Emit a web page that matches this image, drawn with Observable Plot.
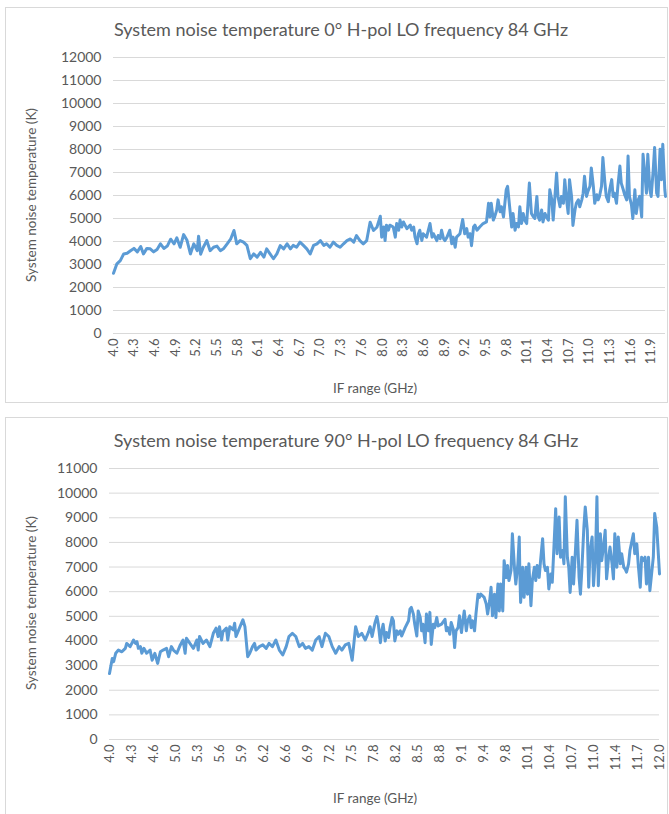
<!DOCTYPE html>
<html>
<head>
<meta charset="utf-8">
<script src="https://cdn.jsdelivr.net/npm/d3@7"></script>
<script src="https://cdn.jsdelivr.net/npm/@observablehq/plot@0.6"></script>
<style>
  body { margin: 0; background: #fff; }
  #page { position: relative; width: 669px; height: 814px; overflow: hidden; font-family: Lato, "Open Sans", sans-serif; color: #595959; }
  .frame { position: absolute; border: 1px solid #d9d9d9; box-sizing: border-box; }
  .title { position: absolute; font-size: 18px; white-space: nowrap; transform: translate(-50%, -50%); }
  .ytitle { position: absolute; font-size: 13.5px; white-space: nowrap; transform: translate(-50%, -50%) rotate(-90deg); }
  .xtitle { position: absolute; font-size: 13.5px; white-space: nowrap; transform: translate(-50%, -50%); }
  .chart { position: absolute; left: 0; }
</style>
</head>
<body>
<div id="page">
  <div class="frame" style="left:5px;top:7px;width:663px;height:396px"></div>
  <div class="frame" style="left:5px;top:417px;width:663px;height:420px"></div>
  <div class="chart" id="c1" style="top:0px"></div>
  <div class="chart" id="c2" style="top:400px"></div>
  <div class="title" style="left:341px;top:29px">System noise temperature 0° H-pol LO frequency 84 GHz</div>
  <div class="ytitle" style="left:31px;top:195px">System noise temperature (K)</div>
  <div class="xtitle" style="left:375px;top:388px">IF range (GHz)</div>
  <div class="title" style="left:346px;top:440px">System noise temperature 90° H-pol LO frequency 84 GHz</div>
  <div class="ytitle" style="left:31px;top:603px">System noise temperature (K)</div>
  <div class="xtitle" style="left:375px;top:798px">IF range (GHz)</div>
</div>
<script>
// ---- data (IF frequency in GHz, noise temperature in K) ----
const series0deg = [
[4.00,2620],[4.05,3030],[4.10,3170],[4.15,3460],[4.20,3490],[4.25,3600],[4.30,3700],[4.35,3550],[4.40,3780],[4.44,3460],
[4.49,3700],[4.54,3680],[4.59,3550],[4.64,3650],[4.69,3900],[4.74,3700],[4.79,3800],[4.84,4100],[4.89,3900],[4.93,4160],
[4.98,3750],[5.03,4300],[5.08,4050],[5.13,3460],[5.18,3900],[5.23,3600],[5.25,4230],[5.28,3450],[5.32,3750],[5.37,4040],
[5.42,3600],[5.47,3750],[5.52,3800],[5.57,3600],[5.62,3700],[5.67,3900],[5.72,4100],[5.77,4480],[5.79,4200],[5.81,3900],
[5.86,4040],[5.91,3970],[5.96,3830],[6.01,3250],[6.06,3460],[6.11,3320],[6.16,3530],[6.21,3320],[6.25,3680],[6.30,3460],
[6.35,3250],[6.40,3460],[6.45,3820],[6.50,3680],[6.55,3900],[6.60,3680],[6.64,3830],[6.69,3750],[6.74,3970],[6.79,3830],
[6.84,3680],[6.89,3460],[6.94,3830],[6.99,3900],[7.04,4040],[7.09,3830],[7.13,3900],[7.18,3750],[7.23,3970],[7.28,3830],
[7.33,3750],[7.38,3900],[7.43,4040],[7.48,4110],[7.53,3970],[7.57,4260],[7.62,4040],[7.67,3900],[7.72,4040],[7.77,4840],
[7.82,4480],[7.87,4620],[7.92,5100],
[7.94,4190],[7.97,4630],[7.99,4040],[8.01,4710],[8.04,4490],[8.06,4710],[8.11,4630],[8.14,4190],[8.16,4780],[8.19,4490],
[8.21,4930],[8.235,4630],[8.26,4850],[8.31,4560],[8.36,4710],[8.38,4490],[8.41,4630],[8.43,4190],[8.46,3900],[8.48,4340],
[8.50,4490],[8.53,4040],[8.55,4340],[8.60,4190],[8.65,4780],[8.68,4190],[8.70,4340],[8.75,4040],[8.77,4260],[8.80,4120],
[8.82,4490],[8.85,4120],[8.87,4040],[8.90,4190],[8.94,4490],[8.97,3900],[8.99,4190],[9.02,3750],[9.04,4190],[9.09,4340],
[9.13,4960],[9.16,4340],[9.19,4560],[9.21,4190],[9.24,4340],[9.26,3820],[9.29,4630],[9.31,4710],[9.34,4490],[9.38,4630],
[9.43,4780],[9.48,4850],[9.51,5660],[9.53,5070],[9.55,5660],[9.58,4930],[9.60,5070],[9.63,5370],[9.65,5810],[9.68,5290],
[9.70,5510],[9.73,5070],[9.77,6250],[9.79,6400],[9.81,5810],[9.85,4630],[9.87,5220],[9.90,4490],[9.92,4780],[9.95,4630],
[9.97,5510],[9.995,4780],[10.02,5220],[10.04,4930],[10.07,4780],[10.09,5660],[10.11,6540],[10.13,5660],[10.14,5220],[10.17,5070],
[10.19,5000],[10.22,5960],[10.24,5070],[10.26,4930],[10.29,5370],[10.31,4850],[10.34,5220],[10.36,5070],[10.39,4930],[10.41,6250],
[10.44,5810],[10.46,4930],[10.48,5730],[10.51,6980],[10.53,5960],[10.56,5510],[10.58,5960],[10.61,5660],[10.63,6690],[10.66,5730],
[10.68,5220],[10.70,6690],[10.73,5960],[10.75,4700],[10.78,5370],[10.80,5660],[10.83,5810],[10.85,5510],[10.88,5810],[10.90,6100],
[10.92,6840],[10.95,5960],[10.97,6180],[11.00,6400],[11.02,7200],[11.05,6400],[11.07,5660],[11.10,6030],[11.12,5810],[11.14,5960],
[11.17,6400],[11.19,7650],[11.22,6540],[11.24,5960],[11.27,5730],[11.29,6250],[11.32,6690],[11.34,5960],[11.36,6100],[11.39,5660],
[11.41,6400],[11.44,7280],[11.46,6540],[11.49,6250],[11.51,6030],[11.54,5810],[11.56,7720],[11.58,5960],[11.61,5590],[11.63,5000],
[11.66,6250],[11.68,5220],[11.71,5810],[11.73,5960],[11.76,5070],[11.78,7790],[11.81,6840],[11.83,6100],[11.85,7790],[11.88,6250],
[11.90,5960],[11.93,7130],[11.95,8090],[11.98,6100],[12.00,5960],[12.03,8010],[12.05,6690],[12.07,8230],[12.10,6250],[12.11,5960]
];

const series90deg = [
[4.00,2680],[4.04,3290],[4.06,3160],[4.09,3500],[4.13,3630],[4.18,3560],[4.23,3700],[4.25,3900],[4.30,3770],[4.35,4040],
[4.38,3900],[4.40,3970],[4.42,3700],[4.45,3770],[4.47,3500],[4.50,3700],[4.54,3500],[4.59,3630],[4.62,3220],[4.66,3500],
[4.70,3090],[4.74,3560],[4.78,3630],[4.83,3700],[4.86,3360],[4.90,3770],[4.93,3630],[4.98,3500],[5.03,3840],[5.07,4040],
[5.10,3500],[5.12,4110],[5.17,3900],[5.22,3700],[5.27,4040],[5.29,3630],[5.31,4180],[5.36,3900],[5.41,4040],[5.46,3770],
[5.51,4310],[5.55,4520],[5.58,4180],[5.60,4580],[5.63,4040],[5.65,4380],[5.70,4520],[5.72,4040],[5.75,4580],[5.80,4450],
[5.82,4720],[5.84,4180],[5.89,4520],[5.94,4860],[5.97,4580],[6.01,3360],[6.04,3500],[6.08,3770],[6.11,3900],[6.13,3630],
[6.18,3770],[6.23,3840],[6.28,3700],[6.32,3900],[6.37,3770],[6.42,4040],[6.47,3630],[6.52,3430],[6.57,3770],[6.61,4180],
[6.66,4310],[6.71,4180],[6.76,3770],[6.81,3900],[6.85,3700],[6.90,3770],[6.95,3630],[7.00,4040],[7.05,4180],[7.09,3770],
[7.14,4310],[7.19,4180],[7.24,3770],[7.29,3500],[7.34,3770],[7.38,3630],[7.43,3840],[7.48,3900],[7.53,3220],[7.55,3770],
[7.58,4580],[7.62,4180],[7.67,4310],[7.72,4040],[7.77,4380],[7.79,4580],[7.82,4180],[7.86,4720],[7.89,4990],
[7.91,4680],[7.94,3930],[7.96,4410],[7.98,4680],[8.01,4000],[8.03,4340],[8.06,4140],[8.08,4540],[8.11,4950],[8.13,4820],
[8.15,4000],[8.18,4410],[8.20,4270],[8.23,4410],[8.25,4200],[8.30,4540],[8.35,4820],[8.37,5290],[8.39,5360],[8.42,5090],
[8.44,4680],[8.47,4200],[8.49,5220],[8.52,4950],[8.54,4410],[8.56,4680],[8.59,3930],[8.61,5090],[8.64,4410],[8.66,5160],
[8.68,3860],[8.71,4680],[8.73,4540],[8.76,4950],[8.78,4610],[8.83,4680],[8.88,4880],[8.90,4410],[8.92,4540],[8.95,4270],
[8.97,4750],[9.00,4480],[9.02,3730],[9.04,4410],[9.07,4540],[9.09,5020],[9.12,4340],[9.14,4820],[9.16,5220],[9.19,4410],
[9.21,4820],[9.24,5020],[9.26,4540],[9.28,4820],[9.31,4410],[9.33,5090],[9.36,5900],[9.38,5770],[9.40,5900],[9.45,5770],
[9.48,5500],[9.50,5090],[9.53,5630],[9.55,6180],[9.57,5020],[9.60,5900],[9.62,4950],[9.65,6310],[9.67,5220],[9.69,6310],
[9.72,5220],[9.74,7260],[9.77,6580],[9.79,7060],[9.81,6450],[9.84,6860],[9.86,8350],[9.89,6990],[9.91,6310],
[9.94,7130],[9.96,8220],[9.97,6580],[9.98,5560],[10.01,6990],[10.03,5770],[10.06,6990],[10.08,5900],[10.10,7130],[10.13,5430],
[10.15,6450],[10.18,6990],[10.20,6450],[10.22,7060],[10.25,6580],[10.27,7260],[10.30,8150],[10.32,7130],[10.34,6860],[10.37,6990],
[10.39,6110],[10.42,6720],[10.44,6380],[10.46,7540],[10.49,9370],[10.51,7540],[10.54,9030],[10.56,7400],[10.59,7670],[10.61,7130],
[10.63,9850],[10.66,7400],[10.68,6990],[10.70,5970],[10.73,7400],[10.75,6310],[10.78,7810],[10.80,8900],[10.83,6580],[10.85,5900],
[10.87,6860],[10.90,8620],[10.92,9440],[10.95,8490],[10.97,6180],[10.99,7670],[11.02,8220],[11.04,6240],[11.07,7540],[11.09,9850],
[11.11,6240],[11.14,8350],[11.16,7260],[11.19,7940],[11.21,8490],[11.23,6520],[11.26,7400],[11.28,7810],[11.31,7130],[11.33,6520],
[11.35,8350],[11.38,6990],[11.40,8220],[11.43,7130],[11.45,7540],[11.48,6990],[11.50,6920],[11.52,6790],[11.55,7130],[11.57,7670],
[11.60,8080],[11.62,8350],[11.64,7540],[11.67,7940],[11.69,7130],[11.72,6180],[11.74,7400],[11.76,7260],[11.79,7400],[11.81,6310],
[11.84,7400],[11.86,6040],[11.88,6580],[11.91,7400],[11.93,9170],[11.96,8620],[11.98,7670],[12.00,6720]
];

// tick labels (category labels shown on the Excel category axis)
const xLabels0deg = ["4.0","4.3","4.6","4.9","5.2","5.5","5.8","6.1","6.4","6.7","7.0","7.3","7.6","8.0","8.3","8.6","8.9","9.2","9.5","9.8","10.1","10.4","10.7","11.0","11.3","11.6","11.9"];
const xLabels90deg = ["4.0","4.3","4.6","5.0","5.3","5.6","5.9","6.2","6.6","6.9","7.2","7.5","7.8","8.2","8.5","8.8","9.1","9.4","9.8","10.1","10.4","10.7","11.0","11.4","11.7","12.0"];
const yTicks0deg = [0,1000,2000,3000,4000,5000,6000,7000,8000,9000,10000,11000,12000];
const yTicks90deg = [0,1000,2000,3000,4000,5000,6000,7000,8000,9000,10000,11000];

// category labels sit at evenly spaced category positions along the IF axis
function labelPositions(labels, first, last) {
  const n = labels.length - 1;
  return labels.map((_, i) => first + (last - first) * i / n);
}

function chart(series, xLabels, yTicks, opts) {
  const pos = labelPositions(xLabels, opts.firstLabel, opts.lastLabel);
  const labelOf = new Map(pos.map((p, i) => [p, xLabels[i]]));
  return Plot.plot({
    width: 669,
    height: opts.height,
    marginTop: opts.marginTop,
    marginBottom: opts.marginBottom,
    marginLeft: opts.marginLeft,
    marginRight: opts.marginRight,
    style: { background: "transparent", fontFamily: "Lato, 'Open Sans', sans-serif", color: "#595959", overflow: "visible" },
    x: { domain: opts.xDomain, axis: null },
    y: { domain: [yTicks[0], yTicks[yTicks.length - 1]], axis: null },
    marks: [
      Plot.gridY(yTicks, { stroke: "#d9d9d9", strokeOpacity: 1, strokeWidth: 1 }),
      Plot.axisY(yTicks, { tickSize: 0, tickPadding: 12, fontSize: 14, fill: "#595959", tickFormat: d => String(d), label: null }),
      Plot.axisX(pos, { tickSize: 0, tickPadding: 5, tickRotate: -90, fontSize: 13, fill: "#595959", tickFormat: d => labelOf.get(d), label: null }),
      Plot.line(series, { x: d => d[0], y: d => d[1], stroke: "#5B9BD5", strokeWidth: 3, strokeLinejoin: "round", strokeLinecap: "round" })
    ]
  });
}

document.getElementById("c1").append(chart(series0deg, xLabels0deg, yTicks0deg, {
  height: 400, marginTop: 57, marginBottom: 67, marginLeft: 113, marginRight: 4,
  xDomain: [4.0, 12.11], firstLabel: 4.0, lastLabel: 11.9
}));
document.getElementById("c2").append(chart(series90deg, xLabels90deg, yTicks90deg, {
  height: 414, marginTop: 68, marginBottom: 75, marginLeft: 109, marginRight: 10,
  xDomain: [4.0, 12.0], firstLabel: 4.0, lastLabel: 12.0
}));
</script>
</body>
</html>
